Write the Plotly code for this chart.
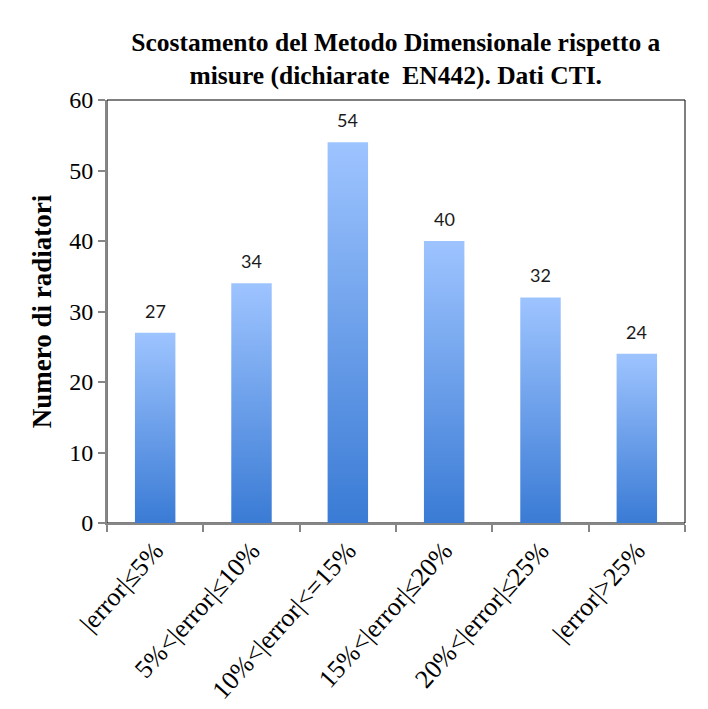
import plotly.graph_objects as go

categories = ["|error|≤5%", "5%<|error|≤10%", "10%<|error|<=15%",
              "15%<|error|≤20%", "20%<|error|≤25%", "|error|>25%"]
counts = [27, 34, 54, 40, 32, 24]
y_ticks = [0, 10, 20, 30, 40, 50, 60]

BAR_W = 0.42
SERIF = "Liberation Serif"

fig = go.Figure()

# each bar is a filled polygon so it can carry a vertical gradient like the original
for i, v in enumerate(counts):
    fig.add_trace(go.Scatter(
        x=[i - BAR_W / 2, i - BAR_W / 2, i + BAR_W / 2, i + BAR_W / 2, i - BAR_W / 2],
        y=[0, v, v, 0, 0],
        mode="lines", line=dict(width=0),
        fill="toself",
        fillgradient=dict(type="vertical",
                          colorscale=[[0, "#3A7BD5"], [1, "#9EC4FF"]]),
        hoverinfo="skip", showlegend=False,
    ))
    fig.add_annotation(x=i, y=v, text=str(v), showarrow=False,
                       yanchor="bottom", yshift=9,
                       font=dict(family="Lato", size=18, color="#1a1a1a"))

fig.update_layout(
    width=708, height=709,
    margin=dict(l=107, r=23, t=100, b=186),
    paper_bgcolor="white", plot_bgcolor="white",
    title=dict(text="Scostamento del Metodo Dimensionale rispetto a<br>misure (dichiarate  EN442). Dati CTI.",
               x=0.559, xanchor="center", y=0.928, yanchor="middle",
               font=dict(family=SERIF, size=25.5, color="black", weight="bold")),
    shapes=[dict(type="rect", xref="paper", yref="paper", x0=0, x1=1, y0=0, y1=1,
                 line=dict(color="black", width=1), layer="below")],
)

fig.update_xaxes(
    range=[-0.5, len(categories) - 0.5], automargin=False,
    tickvals=list(range(len(categories))), ticktext=categories,
    tickangle=-48, ticks="", showgrid=False, zeroline=False,
    showline=True, linecolor="#868686", linewidth=2,
    tickfont=dict(family=SERIF, size=26, color="black"),
    minor=dict(tickvals=[k - 0.5 for k in range(len(categories) + 1)],
               ticks="outside", ticklen=7, tickcolor="#868686", tickwidth=2),
)
fig.update_yaxes(
    range=[0, 60], tickvals=y_ticks, automargin=False,
    ticks="outside", ticklen=7, tickcolor="#868686", tickwidth=2,
    showgrid=False, zeroline=False,
    showline=True, linecolor="#868686", linewidth=2,
    tickfont=dict(family=SERIF, size=24, color="black"),
    title=dict(text="Numero di radiatori", standoff=10,
               font=dict(family=SERIF, size=27, color="black", weight="bold")),
)

# the page's default body margin pushes the chart 8px off the corner
fig.write_html("out.html", config={"displayModeBar": False},
               post_script="document.body.style.margin='0';")
